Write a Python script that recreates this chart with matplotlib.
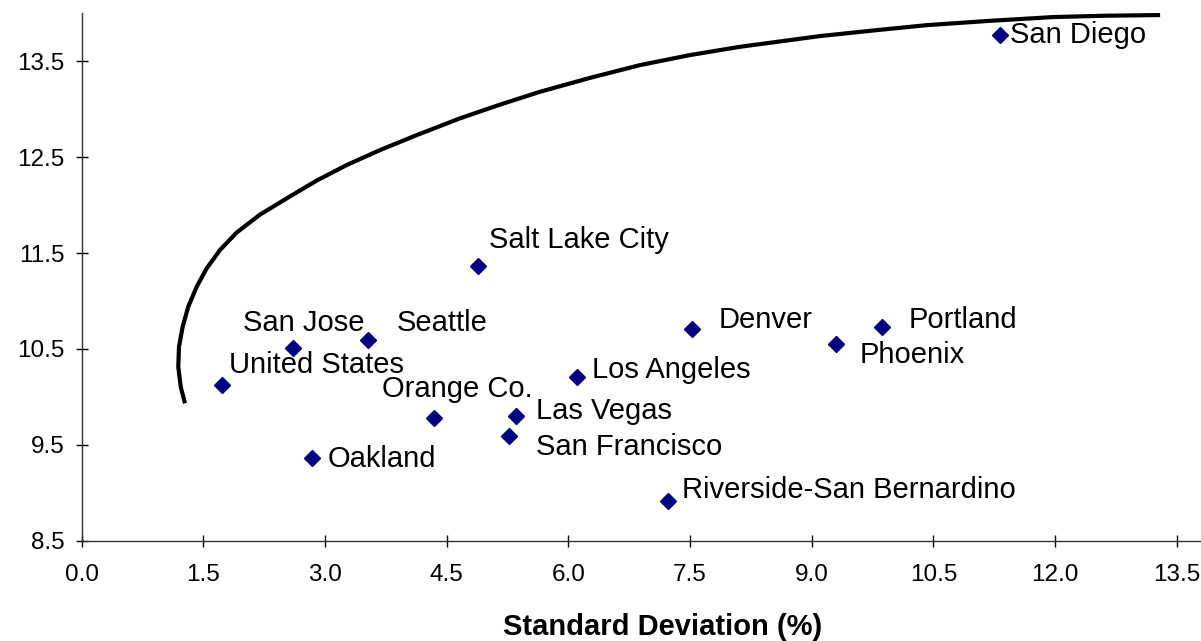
import matplotlib
matplotlib.use("Agg")
import matplotlib.pyplot as plt

# metro areas: standard deviation (%) vs return (%)
cities = ["San Diego", "Salt Lake City", "San Jose", "Seattle", "United States",
          "Denver", "Portland", "Phoenix", "Los Angeles", "Orange Co.",
          "Las Vegas", "San Francisco", "Oakland", "Riverside-San Bernardino"]
std_dev = [11.32, 4.89, 2.60, 3.53, 1.73, 7.53, 9.87, 9.30, 6.11, 4.34,
           5.36, 5.27, 2.84, 7.23]
returns = [13.77, 11.36, 10.51, 10.59, 10.12, 10.71, 10.73, 10.55, 10.21, 9.78,
           9.80, 9.59, 9.36, 8.91]

# efficient frontier
frontier_x = [1.274, 1.221, 1.191, 1.200, 1.245, 1.314, 1.418, 1.541, 1.705,
              1.911, 2.199, 2.528, 2.898, 3.268, 3.678, 4.131, 4.665, 5.158,
              5.651, 6.268, 6.884, 7.501, 8.117, 9.104, 9.782, 10.423, 11.200,
              11.977, 12.618, 13.296]
frontier_y = [9.933, 10.106, 10.314, 10.523, 10.731, 10.940, 11.149, 11.340,
              11.531, 11.714, 11.901, 12.070, 12.256, 12.418, 12.574, 12.730,
              12.905, 13.048, 13.182, 13.327, 13.460, 13.565, 13.651, 13.763,
              13.823, 13.877, 13.922, 13.961, 13.975, 13.982]

# label offsets in pixels (dx, dy) from each point
label_offsets = {
    "San Diego": (10, 0), "Salt Lake City": (11, 26), "San Jose": (-50, 25),
    "Seattle": (29, 17), "United States": (7, 20), "Denver": (26, 9),
    "Portland": (26, 7), "Phoenix": (24, -11), "Los Angeles": (15, 7),
    "Orange Co.": (-52, 29), "Las Vegas": (20, 5), "San Francisco": (27, -11),
    "Oakland": (16, -1), "Riverside-San Bernardino": (14, 11),
}

plt.rcParams["font.family"] = ["Liberation Sans", "DejaVu Sans"]

fig = plt.figure(figsize=(12.01, 6.41), dpi=100)
ax = fig.add_axes([0.068, 0.1565, 0.932, 0.8227])

ax.plot(frontier_x, frontier_y, color="black", linewidth=3,
        solid_capstyle="butt", solid_joinstyle="round")
ax.plot(std_dev, returns, linestyle="none", marker="D", markersize=8.5,
        color="#000080")

for name, x, y in zip(cities, std_dev, returns):
    dx, dy = label_offsets[name]
    ax.annotate(name, (x, y), xytext=(dx, dy), textcoords="offset pixels",
                ha="left", va="center", fontsize=21)

ax.set_xlim(0, 13.8)
ax.set_ylim(8.5, 14.0)
ax.set_xticks([0.0, 1.5, 3.0, 4.5, 6.0, 7.5, 9.0, 10.5, 12.0, 13.5])
ax.set_yticks([8.5, 9.5, 10.5, 11.5, 12.5, 13.5])
ax.xaxis.set_major_formatter(matplotlib.ticker.FormatStrFormatter("%.1f"))
ax.yaxis.set_major_formatter(matplotlib.ticker.FormatStrFormatter("%.1f"))
ax.tick_params(direction="inout", length=9, width=1, colors="black",
               labelsize=17.5)
ax.tick_params(axis="x", pad=12)
ax.tick_params(axis="y", pad=8)

for side in ["top", "right"]:
    ax.spines[side].set_visible(False)
for side in ["left", "bottom"]:
    ax.spines[side].set_color("#333333")
    ax.spines[side].set_linewidth(1)

ax.set_xlabel("Standard Deviation (%)", fontsize=21, fontweight="bold",
              va="baseline")
ax.xaxis.set_label_coords(0.519, -0.178)

fig.savefig("out.png", dpi=100)
